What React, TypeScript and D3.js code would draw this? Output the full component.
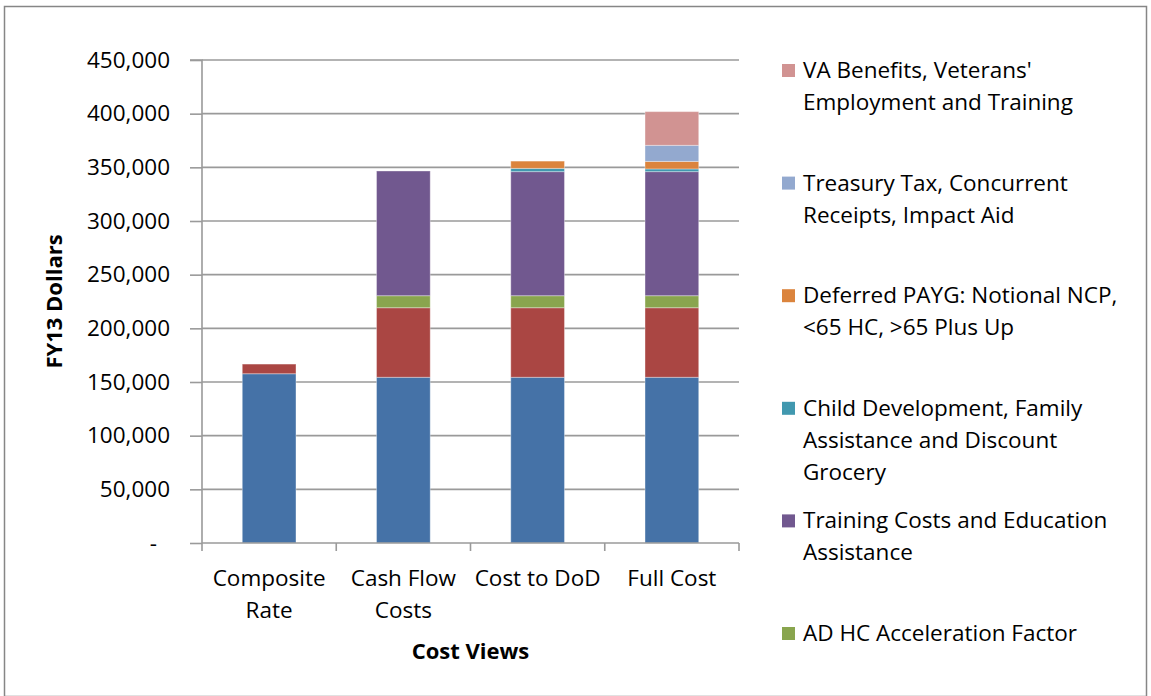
import * as d3 from 'd3';
import { useEffect, useRef } from 'react';

// categories along the x axis (two-line labels)
const categories = ['Composite Rate', 'Cash Flow Costs', 'Cost to DoD', 'Full Cost'];
const categoryLines = [['Composite', 'Rate'], ['Cash Flow', 'Costs'], ['Cost to DoD'], ['Full Cost']];

// series, bottom to top of the stack
const seriesNames = [
  'Composite Rate',
  'Health Care',
  'AD HC Acceleration Factor',
  'Training Costs and Education Assistance',
  'Child Development, Family Assistance and Discount Grocery',
  'Deferred PAYG: Notional NCP, <65 HC, >65 Plus Up',
  'Treasury Tax, Concurrent Receipts, Impact Aid',
  "VA Benefits, Veterans' Employment and Training",
];
const seriesColors = ['#4572A7', '#AA4643', '#89A54E', '#71588F', '#4198AF', '#DB843D', '#93A9CF', '#D19392'];

const compositeRate = [157700, 154400, 154400, 154400];
const healthCare = [9000, 64800, 64800, 64800];
const adHcAcceleration = [0, 11200, 11200, 11200];
const trainingCosts = [0, 116200, 115600, 115600];
const childDevelopment = [0, 0, 3000, 2500];
const deferredPaygo = [0, 0, 6800, 7000];
const treasuryTax = [0, 0, 0, 15000];
const vaBenefits = [0, 0, 0, 31400];

const seriesValues = [
  compositeRate, healthCare, adHcAcceleration, trainingCosts,
  childDevelopment, deferredPaygo, treasuryTax, vaBenefits,
];

// legend entries (only the last six series are listed), top to bottom
const legendSeries = [7, 6, 5, 4, 3, 2];
const legendLines = [
  ["VA Benefits, Veterans'", 'Employment and Training'],
  ['Treasury Tax, Concurrent', 'Receipts, Impact Aid'],
  ['Deferred PAYG: Notional NCP,', '<65 HC, >65 Plus Up'],
  ['Child Development, Family', 'Assistance and Discount', 'Grocery'],
  ['Training Costs and Education', 'Assistance'],
  ['AD HC Acceleration Factor'],
];

const yTicks = [0, 50000, 100000, 150000, 200000, 250000, 300000, 350000, 400000, 450000];

export default function App() {
  const ref = useRef<SVGSVGElement>(null);

  const width = 1151;
  const height = 696;
  const plot = { left: 202, right: 739, top: 60, bottom: 543 };
  const font = "'Open Sans', sans-serif";
  const fs = 22.5;

  useEffect(() => {
    const svg = d3.select(ref.current);
    svg.selectAll('*').remove();

    // chart frame
    svg.append('rect')
      .attr('x', 4.5).attr('y', 6.5)
      .attr('width', 1142).attr('height', 690)
      .attr('fill', '#fff').attr('stroke', '#868686').attr('stroke-width', 1.5);

    const x = d3.scaleBand().domain(categories).range([plot.left, plot.right]).paddingInner(0.6).paddingOuter(0.3);
    const y = d3.scaleLinear().domain([0, 450000]).range([plot.bottom, plot.top]);

    // gridlines
    svg.append('g')
      .selectAll('line')
      .data(yTicks.slice(1))
      .join('line')
      .attr('x1', plot.left).attr('x2', plot.right)
      .attr('y1', (d) => y(d)).attr('y2', (d) => y(d))
      .attr('stroke', '#9a9a9a').attr('stroke-width', 1.6);

    // stacked bars
    const table = categories.map((c, i) => {
      const row: Record<string, any> = { category: c };
      seriesNames.forEach((s, j) => { row[s] = seriesValues[j][i]; });
      return row;
    });
    const stacked = d3.stack<any>().keys(seriesNames)(table);

    svg.append('g')
      .selectAll('g')
      .data(stacked)
      .join('g')
      .attr('fill', (d, i) => seriesColors[i])
      .selectAll('rect')
      .data((d) => d.filter((p) => p[1] - p[0] > 0))
      .join('rect')
      .attr('x', (d) => x(d.data.category)!)
      .attr('width', x.bandwidth())
      .attr('y', (d) => y(d[1]))
      .attr('height', (d) => y(d[0]) - y(d[1]))
      .attr('stroke', 'rgba(255,255,255,0.35)')
      .attr('stroke-width', 1);

    // y axis
    const yAxis = d3.axisLeft(y)
      .tickValues(yTicks)
      .tickSize(12)
      .tickPadding(20)
      .tickFormat((d) => (+d === 0 ? '-' : d3.format(',')(+d)));
    const gy = svg.append('g').attr('transform', `translate(${plot.left},0)`).call(yAxis);
    gy.select('.domain').attr('stroke', '#9a9a9a').attr('stroke-width', 1.6).attr('d', `M-12,${plot.top}H0V${plot.bottom}`);
    gy.selectAll('.tick line').attr('stroke', '#9a9a9a').attr('stroke-width', 1.6);
    gy.selectAll('.tick text')
      .attr('font-family', font).attr('font-size', fs).attr('fill', '#000')
      .attr('dx', (d: any) => (+d === 0 ? -13 : 0));

    // x axis
    const boundaries = [plot.left, ...categories.map((c) => x(c)! + x.bandwidth() + (x.step() - x.bandwidth()) / 2)];
    const gx = svg.append('g');
    gx.append('line')
      .attr('x1', plot.left).attr('x2', plot.right)
      .attr('y1', plot.bottom).attr('y2', plot.bottom)
      .attr('stroke', '#9a9a9a').attr('stroke-width', 1.6);
    gx.selectAll('line.tick')
      .data(boundaries)
      .join('line')
      .attr('class', 'tick')
      .attr('x1', (d) => d).attr('x2', (d) => d)
      .attr('y1', plot.bottom).attr('y2', plot.bottom + 8)
      .attr('stroke', '#9a9a9a').attr('stroke-width', 1.6);

    gx.selectAll('text.cat')
      .data(categories)
      .join('text')
      .attr('class', 'cat')
      .attr('x', (d) => x(d)! + x.bandwidth() / 2)
      .attr('y', 586)
      .attr('text-anchor', 'middle')
      .attr('font-family', font).attr('font-size', fs)
      .selectAll('tspan')
      .data((d, i) => categoryLines[i])
      .join('tspan')
      .attr('x', function () { return (this.parentNode as SVGTextElement).getAttribute('x'); })
      .attr('dy', (d, i) => (i === 0 ? 0 : 32))
      .text((d) => d);

    // axis titles
    svg.append('text')
      .attr('x', (plot.left + plot.right) / 2).attr('y', 659)
      .attr('text-anchor', 'middle')
      .attr('font-family', font).attr('font-size', 22).attr('font-weight', 'bold')
      .text('Cost Views');
    svg.append('text')
      .attr('transform', `translate(62,${(plot.top + plot.bottom) / 2}) rotate(-90)`)
      .attr('text-anchor', 'middle')
      .attr('font-family', font).attr('font-size', 22).attr('font-weight', 'bold')
      .text('FY13 Dollars');

    // legend
    const legend = svg.append('g');
    const items = legend.selectAll('g')
      .data(legendSeries)
      .join('g')
      .attr('transform', (d, i) => `translate(782,${70 + i * 112.6})`);
    items.append('rect')
      .attr('x', 0).attr('y', -6)
      .attr('width', 13).attr('height', 13)
      .attr('fill', (d) => seriesColors[d]);
    items.append('text')
      .attr('x', 21).attr('y', 8)
      .attr('font-family', font).attr('font-size', fs)
      .selectAll('tspan')
      .data((d, i) => legendLines[i])
      .join('tspan')
      .attr('x', 21)
      .attr('dy', (d, i) => (i === 0 ? 0 : 32))
      .text((d) => d);
  }, []);

  return (
    <svg
      ref={ref}
      width={width}
      height={height}
      style={{ position: 'absolute', left: 0, top: 0, background: '#fff' }}
    />
  );
}
